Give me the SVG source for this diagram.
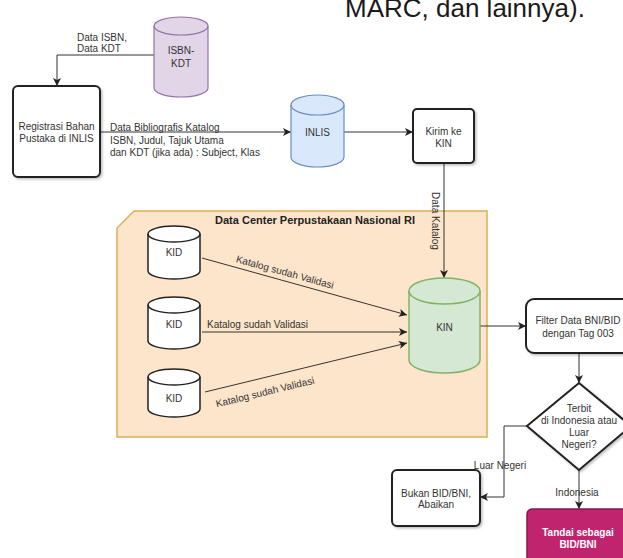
<svg xmlns="http://www.w3.org/2000/svg" width="623" height="558" viewBox="0 0 623 558">
<style>
  text { font-family: "Liberation Sans", Arial, sans-serif; font-size: 10px; fill: #333; }
  .c { text-anchor: middle; }
  .b { font-weight: bold; }
  .box { fill: #fff; stroke: #222; stroke-width: 2; filter: url(#sh); }
  .edge { fill: none; stroke: #333; stroke-width: 1; }
  .cyl-line { fill: none; }
</style>
<defs>
  <marker id="arr" markerUnits="userSpaceOnUse" markerWidth="9" markerHeight="8" refX="8" refY="4" orient="auto">
    <path d="M0,0 L8,4 L0,8 L2,4 Z" fill="#222"/>
  </marker>
  <filter id="sh" x="-10%" y="-10%" width="130%" height="130%">
    <feDropShadow dx="1.5" dy="1.5" stdDeviation="1" flood-color="#000" flood-opacity="0.25"/>
  </filter>
</defs>
<rect width="623" height="558" fill="#fff"/>

<text x="345" y="17" style="font-size:26px; fill:#1a1a1a">MARC, dan lainnya).</text>

<g id="datacenter">
  <path d="M134,211 L487,211 L487,437 L117,437 L117,228 Z" fill="#fde5cb" stroke="#d9b15a" stroke-width="1.5"/>
  <text x="315" y="224" class="c b" style="font-size:11px; fill:#222">Data Center Perpustakaan Nasional RI</text>
</g>

<g id="connectors">
  <polyline class="edge" points="154,55 57,55 57,86" marker-end="url(#arr)"/>
  <text x="77" y="40.5">Data ISBN,</text>
  <text x="77" y="51.5">Data KDT</text>

  <line class="edge" x1="100" y1="132" x2="291" y2="132" marker-end="url(#arr)"/>
  <text x="110" y="130.5">Data Bibliografis Katalog</text>
  <text x="110" y="143.5">ISBN, Judul, Tajuk Utama</text>
  <text x="110" y="155.5">dan KDT (jika ada) : Subject, Klas</text>

  <line class="edge" x1="344" y1="132" x2="413" y2="132" marker-end="url(#arr)"/>

  <line class="edge" x1="444" y1="163" x2="444" y2="278" marker-end="url(#arr)"/>
  <text x="435" y="221" class="c" dominant-baseline="central" transform="rotate(90 435 221)">Data Katalog</text>

  <line class="edge" x1="202" y1="258" x2="407" y2="315" marker-end="url(#arr)"/>
  <text x="285" y="275.5" class="c" transform="rotate(15.5 285 272)">Katalog sudah Validasi</text>

  <line class="edge" x1="202" y1="332" x2="407" y2="332" marker-end="url(#arr)"/>
  <text x="207" y="327.5">Katalog sudah Validasi</text>

  <line class="edge" x1="205" y1="392" x2="407" y2="343" marker-end="url(#arr)"/>
  <text x="265" y="395.5" class="c" transform="rotate(-13.6 265 392)">Katalog sudah Validasi</text>

  <line class="edge" x1="480" y1="326" x2="526" y2="326" marker-end="url(#arr)"/>
  <line class="edge" x1="579" y1="353" x2="579" y2="383" marker-end="url(#arr)"/>

  <polyline class="edge" points="527,426 504,426 504,497 480,497" marker-end="url(#arr)"/>
  <text x="500" y="468.5" class="c">Luar Negeri</text>

  <line class="edge" x1="579" y1="470" x2="579" y2="509" marker-end="url(#arr)"/>
  <text x="577" y="495.5" class="c">Indonesia</text>
</g>

<g id="isbn-kdt">
  <path d="M154,26 A27,9 0 0 1 208,26 L208,88 A27,9 0 0 1 154,88 Z" fill="#e1d5e7" stroke="#9673a6" stroke-width="1.2"/>
  <path d="M154,26 A27,9 0 0 0 208,26" fill="none" stroke="#9673a6" stroke-width="1.2"/>
  <text x="181" y="53.5" class="c">ISBN-</text>
  <text x="181" y="66.5" class="c">KDT</text>
</g>

<g id="registrasi">
  <rect class="box" x="13" y="86" width="87" height="91" rx="5"/>
  <text x="56.5" y="129.5" class="c">Registrasi Bahan</text>
  <text x="56.5" y="141.5" class="c">Pustaka di INLIS</text>
</g>

<g id="inlis">
  <path d="M291,105 A26.5,10 0 0 1 344,105 L344,157 A26.5,10 0 0 1 291,157 Z" fill="#dae8fc" stroke="#6c8ebf" stroke-width="1.2"/>
  <path d="M291,105 A26.5,10 0 0 0 344,105" fill="none" stroke="#6c8ebf" stroke-width="1.2"/>
  <text x="317.5" y="135.5" class="c">INLIS</text>
</g>

<g id="kirim">
  <rect class="box" x="413" y="109" width="61" height="54" rx="4"/>
  <text x="443.5" y="134.5" class="c">Kirim ke</text>
  <text x="443.5" y="146.5" class="c">KIN</text>
</g>

<g id="kid1">
  <path d="M148,234 A26,8 0 0 1 200,234 L200,271 A26,8 0 0 1 148,271 Z" fill="#fff" stroke="#222" stroke-width="1.5"/>
  <path d="M148,234 A26,8 0 0 0 200,234" fill="none" stroke="#222" stroke-width="1.5"/>
  <text x="174" y="255.5" class="c">KID</text>
</g>

<g id="kid2">
  <path d="M148,305 A26,8 0 0 1 200,305 L200,341 A26,8 0 0 1 148,341 Z" fill="#fff" stroke="#222" stroke-width="1.5"/>
  <path d="M148,305 A26,8 0 0 0 200,305" fill="none" stroke="#222" stroke-width="1.5"/>
  <text x="174" y="327.5" class="c">KID</text>
</g>

<g id="kid3">
  <path d="M148,377 A26,8 0 0 1 200,377 L200,409 A26,8 0 0 1 148,409 Z" fill="#fff" stroke="#222" stroke-width="1.5"/>
  <path d="M148,377 A26,8 0 0 0 200,377" fill="none" stroke="#222" stroke-width="1.5"/>
  <text x="174" y="401.5" class="c">KID</text>
</g>

<g id="kin">
  <path d="M409,291 A35.5,13 0 0 1 480,291 L480,360 A35.5,13 0 0 1 409,360 Z" fill="#d5e8d4" stroke="#82b366" stroke-width="1.5"/>
  <path d="M409,291 A35.5,13 0 0 0 480,291" fill="none" stroke="#82b366" stroke-width="1.5"/>
  <text x="444.5" y="330.5" class="c">KIN</text>
</g>

<g id="filter">
  <rect class="box" x="526" y="299" width="105" height="54" rx="8"/>
  <text x="578" y="323.5" class="c">Filter Data BNI/BID</text>
  <text x="578" y="336.5" class="c">dengan Tag 003</text>
</g>

<g id="decision">
  <polygon points="579,383 527,426 579,470 631,426" fill="#fff" stroke="#222" stroke-width="2" filter="url(#sh)"/>
  <text x="579" y="411.5" class="c">Terbit</text>
  <text x="579" y="423.5" class="c">di Indonesia atau</text>
  <text x="579" y="435.5" class="c">Luar</text>
  <text x="579" y="447.5" class="c">Negeri?</text>
</g>

<g id="bukan">
  <rect class="box" x="392" y="470" width="88" height="56" rx="5"/>
  <text x="436" y="496.5" class="c">Bukan BID/BNI,</text>
  <text x="436" y="507.5" class="c">Abaikan</text>
</g>

<g id="tandai">
  <rect x="527" y="509" width="104" height="62" rx="5" fill="#c0246f" stroke="#8a1450" stroke-width="1.5"/>
  <text x="578" y="535.5" class="c b" style="fill:#fff">Tandai sebagai</text>
  <text x="578" y="547.5" class="c b" style="fill:#fff">BID/BNI</text>
</g>
</svg>
